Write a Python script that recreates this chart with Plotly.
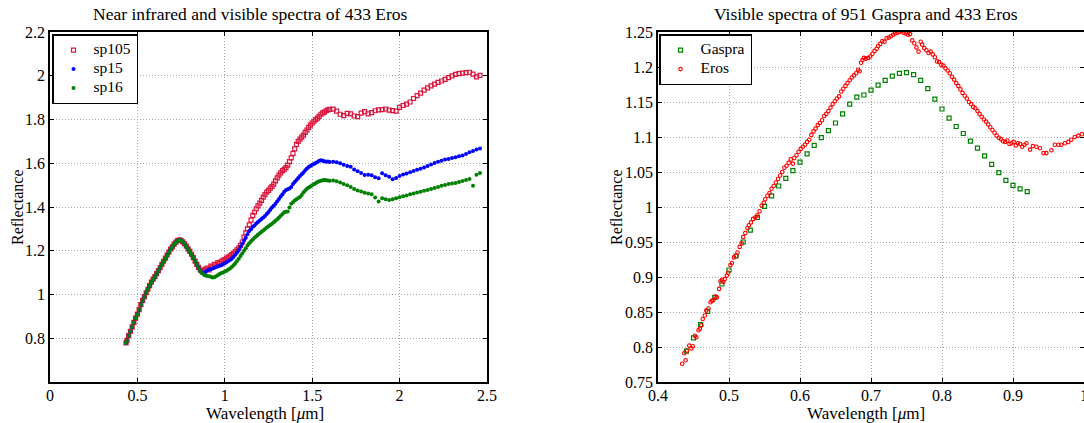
import plotly.graph_objects as go

# ---------------- Near infrared + visible spectra of 433 Eros ----------------
wavelength_nir = [
    0.435, 0.44, 0.45, 0.46, 0.47, 0.48, 0.49, 0.50, 0.51, 0.52, 0.53, 0.54, 0.55, 0.56, 0.57, 0.58,
    0.59, 0.60, 0.61, 0.62, 0.63, 0.64, 0.65, 0.66, 0.67, 0.68, 0.69, 0.70, 0.71, 0.72, 0.73, 0.74,
    0.75, 0.76, 0.77, 0.78, 0.79, 0.80, 0.81, 0.82, 0.83, 0.84, 0.85, 0.86, 0.87, 0.88, 0.89,
    0.90, 0.91, 0.92, 0.93, 0.94, 0.95, 0.96, 0.97, 0.98, 0.99, 1.00, 1.01, 1.02, 1.03, 1.04, 1.05,
    1.06, 1.07, 1.08, 1.09, 1.10, 1.11, 1.12, 1.13, 1.14, 1.15, 1.16, 1.17, 1.18, 1.19, 1.20, 1.21,
    1.22, 1.23, 1.24, 1.25, 1.26, 1.27, 1.28, 1.29, 1.30, 1.31, 1.32, 1.33, 1.34, 1.35, 1.36, 1.37,
    1.38, 1.39, 1.40, 1.41, 1.42, 1.43, 1.44, 1.45, 1.46, 1.47, 1.48, 1.49, 1.50, 1.51, 1.52, 1.53,
    1.54, 1.55, 1.56, 1.57, 1.58, 1.59, 1.60,
    1.62, 1.64, 1.66, 1.68, 1.70, 1.72, 1.74, 1.76, 1.78, 1.80, 1.82, 1.84, 1.86, 1.88, 1.90, 1.92,
    1.94, 1.96, 1.98, 2.00, 2.02, 2.04, 2.06, 2.08, 2.10, 2.12, 2.14, 2.16, 2.18, 2.20, 2.22, 2.24,
    2.26, 2.28, 2.30, 2.32, 2.34, 2.36, 2.38, 2.40, 2.42, 2.44, 2.46,
]

sp105 = [
    0.779, 0.790, 0.812, 0.832, 0.852, 0.873, 0.892, 0.910, 0.931, 0.954, 0.973, 0.990, 1.008, 1.024, 1.041, 1.057,
    1.070, 1.082, 1.095, 1.109, 1.123, 1.138, 1.152, 1.166, 1.180, 1.194, 1.208, 1.218, 1.230, 1.239, 1.246, 1.250,
    1.248, 1.241, 1.232, 1.221, 1.209, 1.197, 1.184, 1.169, 1.153, 1.138, 1.124, 1.112, 1.105, 1.110, 1.116,
    1.121, 1.112, 1.130, 1.125, 1.138, 1.135, 1.146, 1.142, 1.152, 1.156, 1.160, 1.166, 1.171, 1.177, 1.182, 1.188,
    1.196, 1.204, 1.212, 1.225, 1.240, 1.262, 1.282, 1.300, 1.318, 1.340, 1.362, 1.376, 1.392, 1.405, 1.418, 1.430,
    1.445, 1.457, 1.468, 1.476, 1.486, 1.494, 1.505, 1.519, 1.533, 1.546, 1.556, 1.566, 1.572, 1.580, 1.591, 1.607,
    1.625, 1.645, 1.666, 1.686, 1.700, 1.710, 1.719, 1.729, 1.741, 1.752, 1.764, 1.774, 1.784, 1.792, 1.799, 1.806,
    1.814, 1.824, 1.830, 1.834, 1.840, 1.844, 1.846,
    1.847, 1.838, 1.824, 1.818, 1.828, 1.826, 1.816, 1.813, 1.829, 1.836, 1.826, 1.831, 1.840, 1.844, 1.845, 1.848,
    1.843, 1.841, 1.838, 1.855, 1.864, 1.870, 1.880, 1.896, 1.909, 1.921, 1.934, 1.945, 1.954, 1.962, 1.970, 1.976,
    1.983, 1.991, 1.999, 2.006, 2.010, 2.012, 2.014, 2.016, 2.007, 1.995, 2.002,
]

sp15 = [
    0.778, 0.790, 0.811, 0.831, 0.852, 0.872, 0.891, 0.910, 0.930, 0.953, 0.972, 0.989, 1.007, 1.024, 1.040, 1.056,
    1.069, 1.081, 1.094, 1.108, 1.122, 1.137, 1.151, 1.165, 1.179, 1.193, 1.207, 1.217, 1.229, 1.238, 1.245, 1.249,
    1.247, 1.240, 1.231, 1.220, 1.208, 1.196, 1.182, 1.167, 1.152, 1.137, 1.122, 1.109, 1.100, 1.098, 1.103,
    1.110, 1.113, 1.117, 1.119, 1.122, 1.126, 1.128, 1.131, 1.134, 1.138, 1.143, 1.148, 1.153, 1.158, 1.164, 1.172,
    1.182, 1.192, 1.204, 1.218, 1.232, 1.247, 1.260, 1.276, 1.290, 1.298, 1.310, 1.316, 1.325, 1.332, 1.338, 1.345,
    1.352, 1.359, 1.368, 1.377, 1.387, 1.398, 1.406, 1.415, 1.426, 1.437, 1.448, 1.458, 1.470, 1.478, 1.481, 1.485,
    1.492, 1.505, 1.514, 1.524, 1.533, 1.542, 1.550, 1.558, 1.568, 1.576, 1.583, 1.588, 1.593, 1.597, 1.601, 1.606,
    1.611, 1.614, 1.612, 1.609, 1.607, 1.608, 1.606,
    1.607, 1.605, 1.600, 1.593, 1.587, 1.584, 1.572, 1.563, 1.556, 1.546, 1.548, 1.545, 1.536, 1.532, 1.554, 1.545,
    1.538, 1.527, 1.533, 1.542, 1.549, 1.553, 1.559, 1.565, 1.570, 1.575, 1.581, 1.588, 1.594, 1.601, 1.607, 1.612,
    1.617, 1.620, 1.624, 1.628, 1.632, 1.636, 1.642, 1.650, 1.656, 1.663, 1.668,
]

sp16 = [
    0.778, 0.789, 0.811, 0.831, 0.851, 0.872, 0.891, 0.909, 0.930, 0.953, 0.972, 0.989, 1.007, 1.023, 1.040, 1.056,
    1.069, 1.081, 1.094, 1.108, 1.122, 1.137, 1.151, 1.165, 1.179, 1.193, 1.207, 1.217, 1.229, 1.238, 1.245, 1.249,
    1.247, 1.240, 1.231, 1.220, 1.208, 1.196, 1.182, 1.167, 1.151, 1.136, 1.121, 1.107, 1.097, 1.090, 1.087,
    1.085, 1.083, 1.081, 1.078, 1.079, 1.083, 1.088, 1.094, 1.098, 1.101, 1.105, 1.109, 1.114, 1.119, 1.126, 1.134,
    1.143, 1.153, 1.164, 1.176, 1.188, 1.200, 1.212, 1.224, 1.234, 1.243, 1.252, 1.259, 1.266, 1.273, 1.280, 1.287,
    1.293, 1.300, 1.306, 1.312, 1.318, 1.324, 1.330, 1.337, 1.344, 1.352, 1.360, 1.368, 1.376, 1.378, 1.379, 1.398,
    1.415, 1.422, 1.430, 1.436, 1.441, 1.446, 1.455, 1.466, 1.476, 1.483, 1.489, 1.494, 1.499, 1.504, 1.509, 1.514,
    1.518, 1.520, 1.522, 1.523, 1.522, 1.521, 1.520,
    1.521, 1.518, 1.512, 1.505, 1.499, 1.491, 1.482, 1.476, 1.471, 1.465, 1.462, 1.458, 1.443, 1.425, 1.440, 1.436,
    1.432, 1.436, 1.440, 1.445, 1.449, 1.453, 1.458, 1.462, 1.466, 1.470, 1.474, 1.478, 1.482, 1.487, 1.492, 1.497,
    1.501, 1.505, 1.507, 1.510, 1.514, 1.519, 1.523, 1.528, 1.497, 1.548, 1.556,
]

# ---------------- Visible spectra: 951 Gaspra and 433 Eros ----------------
gaspra_wl = [
    0.44, 0.45, 0.46, 0.47, 0.48, 0.49, 0.50, 0.51, 0.52, 0.53, 0.54, 0.55, 0.56, 0.57, 0.58, 0.59,
    0.60, 0.61, 0.62, 0.63, 0.64, 0.65, 0.66, 0.67, 0.68, 0.69, 0.70, 0.71, 0.72, 0.73, 0.74, 0.75,
    0.76, 0.77, 0.78, 0.79, 0.80, 0.81, 0.82, 0.83, 0.84, 0.85, 0.86, 0.87, 0.88, 0.89, 0.90, 0.91, 0.92,
]
gaspra_refl = [
    0.794, 0.813, 0.832, 0.851, 0.871, 0.890, 0.910, 0.930, 0.950, 0.967, 0.985, 1.001, 1.016, 1.030, 1.041, 1.052,
    1.064, 1.076, 1.088, 1.099, 1.109, 1.120, 1.133, 1.147, 1.157, 1.160, 1.167, 1.174, 1.181, 1.187, 1.191, 1.192,
    1.189, 1.181, 1.169, 1.154, 1.140, 1.127, 1.115, 1.105, 1.094, 1.084, 1.073, 1.061, 1.049, 1.038, 1.031, 1.026, 1.022,
]

eros_wl = [
    0.434, 0.437, 0.439, 0.441, 0.444, 0.447, 0.449, 0.452, 0.454, 0.457, 0.459, 0.461, 0.463, 0.466, 0.468, 0.471,
    0.474, 0.476, 0.478, 0.481, 0.483, 0.486, 0.488, 0.490, 0.492, 0.494, 0.497, 0.499, 0.502, 0.504, 0.507, 0.510,
    0.512, 0.515, 0.518, 0.520, 0.523, 0.526, 0.528, 0.531, 0.534, 0.537, 0.540, 0.543, 0.546, 0.549, 0.551, 0.554,
    0.557, 0.560, 0.563, 0.566, 0.569, 0.572, 0.575, 0.578, 0.581, 0.584, 0.587, 0.590, 0.592, 0.595, 0.598, 0.601,
    0.604, 0.607, 0.610, 0.613, 0.616, 0.619, 0.622, 0.625, 0.628, 0.631, 0.634, 0.637, 0.640, 0.643, 0.646, 0.649,
    0.652, 0.655, 0.658, 0.661, 0.664, 0.667, 0.670, 0.673, 0.676, 0.679, 0.682, 0.684, 0.686, 0.688, 0.690, 0.693,
    0.696, 0.699, 0.702, 0.705, 0.708, 0.710, 0.713, 0.716, 0.719, 0.722, 0.725, 0.728, 0.731, 0.734, 0.737, 0.740,
    0.743, 0.746, 0.749, 0.752, 0.755, 0.758, 0.761, 0.764, 0.767, 0.770, 0.772, 0.775, 0.778, 0.781, 0.784, 0.787,
    0.790, 0.793, 0.796, 0.799, 0.802, 0.805, 0.808, 0.811, 0.814, 0.817, 0.820, 0.823, 0.826, 0.829, 0.832, 0.835,
    0.838, 0.841, 0.844, 0.847, 0.850, 0.853, 0.856, 0.859, 0.862, 0.865, 0.868, 0.871, 0.874, 0.877, 0.880, 0.883,
    0.886, 0.889, 0.892, 0.895, 0.898, 0.901, 0.904, 0.907, 0.910, 0.913, 0.916, 0.919, 0.924, 0.928, 0.933, 0.938,
    0.943, 0.947, 0.954, 0.959, 0.964, 0.968, 0.973, 0.978, 0.982, 0.987, 0.992, 0.997, 1.003, 1.008,
]
eros_refl = [
    0.776, 0.791, 0.781, 0.795, 0.802, 0.798, 0.801, 0.816, 0.814, 0.824, 0.826, 0.831, 0.840, 0.845, 0.852, 0.855,
    0.864, 0.866, 0.867, 0.872, 0.871, 0.883, 0.894, 0.896, 0.893, 0.897, 0.902, 0.906, 0.917, 0.920, 0.928, 0.930,
    0.935, 0.943, 0.948, 0.957, 0.963, 0.970, 0.974, 0.978, 0.983, 0.985, 0.988, 0.994, 1.002, 1.006, 1.011, 1.016,
    1.020, 1.026, 1.030, 1.035, 1.040, 1.045, 1.050, 1.056, 1.059, 1.063, 1.068, 1.062, 1.070, 1.074, 1.079, 1.083,
    1.086, 1.089, 1.093, 1.096, 1.103, 1.108, 1.112, 1.117, 1.120, 1.124, 1.130, 1.133, 1.137, 1.142, 1.147, 1.151,
    1.155, 1.158, 1.165, 1.169, 1.173, 1.177, 1.181, 1.185, 1.188, 1.191, 1.196, 1.194, 1.206, 1.210, 1.213, 1.212,
    1.213, 1.215, 1.219, 1.223, 1.226, 1.230, 1.233, 1.237, 1.236, 1.241, 1.242, 1.244, 1.246, 1.248, 1.249, 1.250,
    1.251, 1.249, 1.248, 1.246, 1.247, 1.238, 1.234, 1.228, 1.222, 1.236, 1.232, 1.227, 1.224, 1.220, 1.222, 1.218,
    1.214, 1.208, 1.207, 1.203, 1.202, 1.198, 1.195, 1.191, 1.186, 1.182, 1.177, 1.173, 1.168, 1.163, 1.159, 1.155,
    1.150, 1.147, 1.143, 1.141, 1.137, 1.133, 1.129, 1.125, 1.122, 1.118, 1.114, 1.110, 1.106, 1.102, 1.099, 1.097,
    1.094, 1.093, 1.095, 1.090, 1.091, 1.093, 1.088, 1.091, 1.090, 1.086, 1.089, 1.091, 1.082, 1.087, 1.086, 1.084,
    1.077, 1.077, 1.081, 1.089, 1.089, 1.089, 1.091, 1.093, 1.096, 1.100, 1.102, 1.104, 1.105, 1.108,
]

# axis ticks
left_xticks = [0, 0.5, 1, 1.5, 2, 2.5]
left_xlabels = ["0", "0.5", "1", "1.5", "2", "2.5"]
left_yticks = [0.8, 1.0, 1.2, 1.4, 1.6, 1.8, 2.0, 2.2]
left_ylabels = ["0.8", "1", "1.2", "1.4", "1.6", "1.8", "2", "2.2"]
right_xticks = [0.4, 0.5, 0.6, 0.7, 0.8, 0.9, 1.0]
right_xlabels = ["0.4", "0.5", "0.6", "0.7", "0.8", "0.9", "1"]
right_yticks = [0.75, 0.8, 0.85, 0.9, 0.95, 1.0, 1.05, 1.1, 1.15, 1.2, 1.25]
right_ylabels = ["0.75", "0.8", "0.85", "0.9", "0.95", "1", "1.05", "1.1", "1.15", "1.2", "1.25"]

for series in (sp105, sp15, sp16):
    assert len(series) == len(wavelength_nir)
assert len(gaspra_refl) == len(gaspra_wl)
assert len(eros_refl) == len(eros_wl)

W, H = 1084, 423
M_TOP, M_BOT = 32, 41
SERIF = "Liberation Serif"
CRIMSON = "#dc143c"
GREEN = "#008000"


def legend_name(label):
    # larger glyphs than the legend's base font, keeping the rows compact
    return f'<span style="font-size:15.5px">{label}</span>'


fig = go.Figure()

fig.add_trace(go.Scatter(
    x=wavelength_nir, y=sp105, mode="markers", name=legend_name("sp105"),
    marker=dict(symbol="square-open", size=4, color=CRIMSON, line=dict(width=1.2, color=CRIMSON)),
    xaxis="x", yaxis="y", legend="legend",
))
fig.add_trace(go.Scatter(
    x=wavelength_nir, y=sp15, mode="markers", name=legend_name("sp15"),
    marker=dict(symbol="circle", size=4, color="#0000ff", line=dict(width=0)),
    xaxis="x", yaxis="y", legend="legend",
))
fig.add_trace(go.Scatter(
    x=wavelength_nir, y=sp16, mode="markers", name=legend_name("sp16"),
    marker=dict(symbol="circle", size=4, color=GREEN, line=dict(width=0)),
    xaxis="x", yaxis="y", legend="legend",
))
fig.add_trace(go.Scatter(
    x=gaspra_wl, y=gaspra_refl, mode="markers", name=legend_name("Gaspra"),
    marker=dict(symbol="square-open", size=4, color=GREEN, line=dict(width=1.2, color=GREEN)),
    xaxis="x2", yaxis="y2", legend="legend2",
))
fig.add_trace(go.Scatter(
    x=eros_wl, y=eros_refl, mode="markers", name=legend_name("Eros"),
    marker=dict(symbol="circle-open", size=3.5, color="#ff0000", line=dict(width=1.1, color="#ff0000")),
    xaxis="x2", yaxis="y2", legend="legend2",
))

axis_style = dict(
    showline=True, linecolor="black", linewidth=1.5, mirror="allticks",
    ticks="inside", ticklen=4, tickwidth=1, tickcolor="black",
    showgrid=True, gridcolor="#a8a8a8", gridwidth=1, griddash="1px,2px",
    zeroline=False, automargin=False,
    tickfont=dict(family=SERIF, size=16, color="black"),
)

x1_dom = [50 / W, 487 / W]
x2_dom = [658 / W, 1.0]

legend_style = dict(
    y=0.994, xanchor="left", yanchor="top",
    bgcolor="white", bordercolor="black", borderwidth=1.5,
    font=dict(family=SERIF, size=11), tracegroupgap=0, itemwidth=30,
)

fig.update_layout(
    width=W, height=H, autosize=False,
    margin=dict(l=0, r=0, t=M_TOP, b=M_BOT),
    paper_bgcolor="white", plot_bgcolor="white",
    font=dict(family=SERIF, size=16, color="black"),
    xaxis=dict(domain=x1_dom, range=[0, 2.5], tickvals=left_xticks, ticktext=left_xlabels,
               anchor="y", ticklabelstandoff=-2, **axis_style),
    yaxis=dict(domain=[0, 1], range=[0.6, 2.2], tickvals=left_yticks, ticktext=left_ylabels,
               anchor="x", **axis_style),
    xaxis2=dict(domain=x2_dom, range=[0.4, 1.0], tickvals=right_xticks, ticktext=right_xlabels,
                anchor="y2", ticklabelstandoff=-2, ticklabeloverflow="allow", **axis_style),
    yaxis2=dict(domain=[0, 1], range=[0.75, 1.25], tickvals=right_yticks, ticktext=right_ylabels,
                anchor="x2", **axis_style),
    legend=dict(x=52 / W, **legend_style),
    legend2=dict(x=659 / W, **legend_style),
    showlegend=True,
)

plot_h = H - M_TOP - M_BOT


def paper_y(px):
    return (H - M_BOT - px) / plot_h


texts = [
    ("Near infrared and visible spectra of 433 Eros", 250 / W, paper_y(14), 0, 17.5),
    ("Visible spectra of 951 Gaspra and 433 Eros", 866 / W, paper_y(14), 0, 17.5),
    ("Wavelength [<i>μ</i>m]", 265 / W, paper_y(413), 0, 17),
    ("Wavelength [<i>μ</i>m]", 866 / W, paper_y(413), 0, 17),
    ("Reflectance", 17 / W, 0.5, -90, 16),
    ("Reflectance", 616 / W, 0.5, -90, 16),
]
for txt, xp, yp, ang, sz in texts:
    fig.add_annotation(
        text=txt, xref="paper", yref="paper", x=xp, y=yp,
        xanchor="center", yanchor="middle", showarrow=False, textangle=ang,
        font=dict(family=SERIF, size=sz, color="black"),
    )

fig.write_html("out.html")
